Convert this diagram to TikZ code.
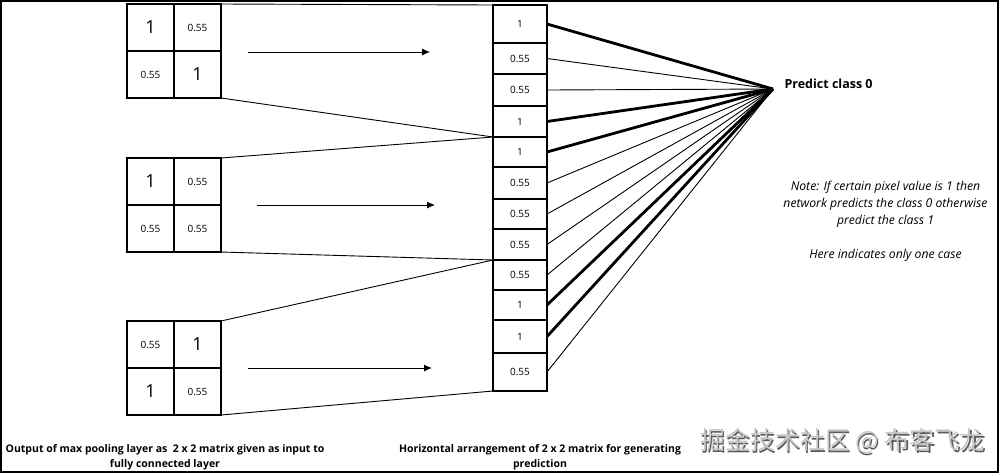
\documentclass[tikz,border=0pt]{standalone}
\usepackage{fontspec}
\setmainfont{Open Sans}
\newfontfamily\cjkfont{Noto Sans CJK SC}
\usepackage{tikz}
\usetikzlibrary{arrows.meta}
\usetikzlibrary{positioning}
\tikzstyle{cell}=[draw,line width=2.6pt,minimum size=47pt,inner sep=0pt,outer sep=0pt,font=\fontsize{10}{12}\selectfont]
\tikzstyle{slot}=[draw,line width=2.6pt,minimum width=54pt,inner sep=0pt,outer sep=0pt,font=\fontsize{10}{12}\selectfont]
\tikzstyle{strong}=[line width=2.8pt]
\tikzstyle{weak}=[line width=0.9pt]
\tikzstyle{feed}=[line width=0.9pt,-{Latex[length=8pt,width=7pt]}]
\newcommand{\bigone}{{\fontsize{18}{20}\selectfont 1}}

\begin{document}
\begin{tikzpicture}[x=1pt,y=-1pt]
\useasboundingbox (0,0) rectangle (1000,475);
\draw[line width=1.5pt] (1,1) rectangle (998,472);

% 2 x 2 outputs of max pooling
\foreach \m/\y/\va/\vb/\vc/\vd in {1/27.5/\bigone/0.55/0.55/\bigone,
    2/181.5/\bigone/0.55/0.55/0.55,
    3/344.5/0.55/\bigone/\bigone/0.55} {
  \node[cell] (m\m a) at (150.5,\y) {\va};
  \node[cell,right=0pt of m\m a] (m\m b) {\vb};
  \node[cell,below=0pt of m\m a] (m\m c) {\vc};
  \node[cell,right=0pt of m\m c] (m\m d) {\vd};
}

% flattened column
\foreach \i/\top/\bot/\v in {1/5/43/1, 2/43/74/0.55, 3/74/106/0.55, 4/106/137/1,
    5/137/167/1, 6/167/199/0.55, 7/199/229/0.55, 8/229/260/0.55,
    9/260/290/0.55, 10/290/320/1, 11/320/353/1, 12/353/391/0.55}
  \node[slot,minimum height={(\bot-\top)*1pt}] (c\i) at (520,{(\top+\bot)/2}) {\v};

\coordinate (p) at (773,89);
\node[anchor=west,font=\bfseries\fontsize{12.5}{15}\selectfont] (pred) at (781,84) {Predict class 0};

\foreach \i/\w in {1/strong, 2/weak, 3/weak, 4/strong, 5/strong, 6/weak,
    7/weak, 8/weak, 9/weak, 10/strong, 11/strong, 12/weak}
  \draw[\w] (c\i.east) -- (p);

% matrices to column
\draw[weak] (m1b.north east) -- (c1.north west);
\draw[weak] (m1d.south east) -- (c4.south west);
\draw[weak] (m2b.north east) -- (c5.north west);
\draw[weak] (m2d.south east) -- (c8.south west);
\draw[weak] (m3b.north east) -- (c9.north west);
\draw[weak] (m3d.south east) -- (c12.south west);

\coordinate (a1) at (248,52);  \coordinate (b1) at (430,52);
\coordinate (a2) at (257,205); \coordinate (b2) at (435,205);
\coordinate (a3) at (248,368); \coordinate (b3) at (432,368);
\draw[feed] (a1) -- (b1);
\draw[feed] (a2) -- (b2);
\draw[feed] (a3) -- (b3);

\node[align=center,font=\itshape\fontsize{12.2}{17}\selectfont] (note) at (885.5,221)
  {Note: If certain pixel value is 1 then\\network predicts the class 0 otherwise\\predict the class 1\\[17pt]Here indicates only one case};

\node[align=center,font=\bfseries\fontsize{10.5}{15}\selectfont] (cap1) at (165,457)
  {Output of max pooling layer as~ 2 x 2 matrix given as input to\\fully connected layer};
\node[align=center,font=\bfseries\fontsize{10.5}{15}\selectfont] (cap2) at (540,457)
  {Horizontal arrangement of 2 x 2 matrix for generating\\prediction};

% watermark
\node[font=\cjkfont\fontsize{25}{27}\selectfont,text=black!65] (markshade) at (843.8,442.8) {掘金技术社区 @ 布客飞龙};
\node[font=\cjkfont\fontsize{25}{27}\selectfont,text=black!22] (mark) at (842.5,441.5) {掘金技术社区 @ 布客飞龙};
\end{tikzpicture}
\end{document}
